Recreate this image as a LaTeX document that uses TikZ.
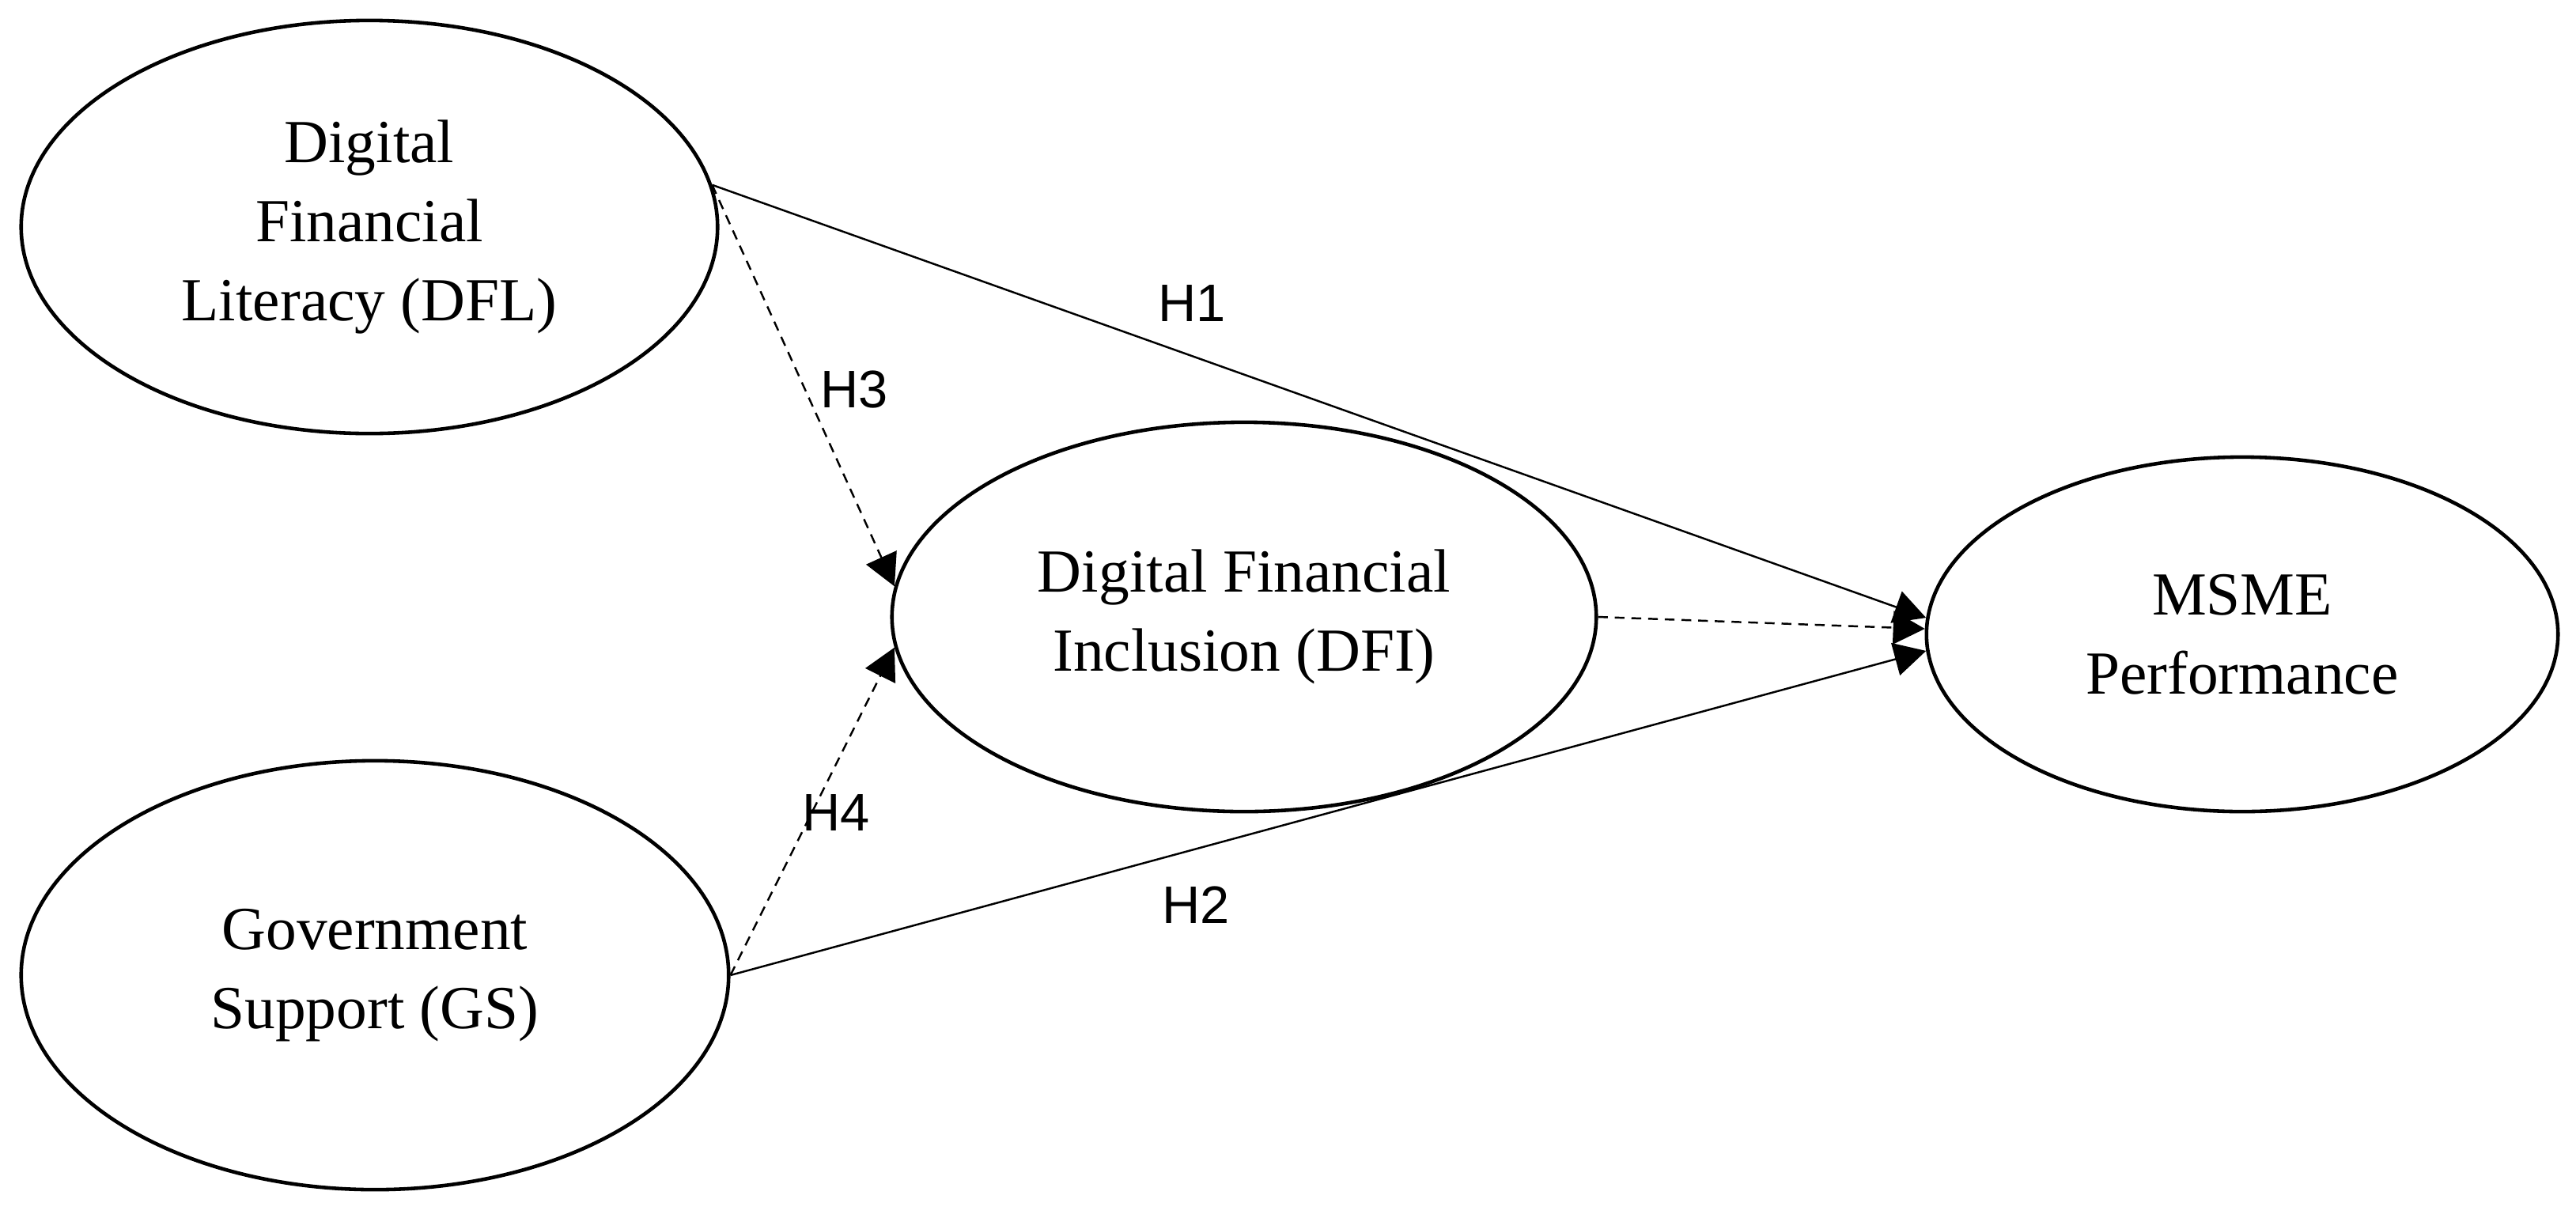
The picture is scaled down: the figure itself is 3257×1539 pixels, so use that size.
\documentclass[tikz,border=0pt]{standalone}
\usepackage{fontspec}
\setmainfont{Liberation Serif}
\newfontfamily\hypfont{Liberation Sans}
\usetikzlibrary{positioning,shapes.geometric,arrows.meta}

\begin{document}
\begin{tikzpicture}[x=0.01cm, y=-0.01cm,
    latent/.style={draw, ellipse, line width=1.3pt, inner sep=0pt, align=center, font=\fontsize{22}{28.5}\selectfont},
    arrow/.style={-{Triangle[length=0.4cm, width=0.42cm]}, line width=0.7pt},
    dasharrow/.style={arrow, dash pattern=on 3.5pt off 2.5pt},
    hyp/.style={font=\hypfont\fontsize{19}{22}\selectfont}]

    \useasboundingbox (0,0) rectangle (3257,1539);

    % Independent variables
    \node[latent, minimum width=8.8cm, minimum height=5.22cm] (dfl) at (467,287) {Digital\\Financial\\Literacy (DFL)};
    \node[latent, minimum width=8.94cm, minimum height=5.42cm] (gs) at (474,1233) {Government\\Support (GS)};

    % Mediator
    \node[latent, minimum width=8.9cm, minimum height=4.92cm] (dfi) at (1573,780) {Digital Financial\\Inclusion (DFI)};

    % Dependent variable
    \node[latent, minimum width=7.98cm, minimum height=4.48cm] (msme) at (2835,802) {MSME\\Performance};

    % Paths
    \coordinate (dflout) at (dfl.7);
    \draw[arrow] (dflout) -- (msme.177);
    \draw[dasharrow] (dflout) -- (dfi.175);
    \draw[dasharrow] (gs.east) -- (dfi.185);
    \draw[arrow] (gs.east) -- (msme.183);
    \draw[dasharrow] (dfi.east) -- (msme.179);

    % Hypotheses
    \node[hyp] (h1) at (1507,384) {H1};
    \node[hyp] (h2) at (1512,1144) {H2};
    \node[hyp] (h3) at (1080,492) {H3};
    \node[hyp] (h4) at (1057,1027) {H4};
\end{tikzpicture}
\end{document}
